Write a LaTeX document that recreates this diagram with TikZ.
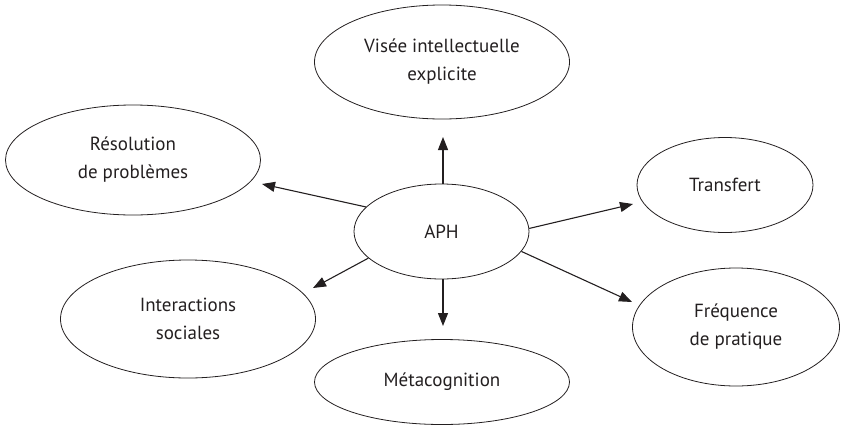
\documentclass[tikz,border=0pt]{standalone}
\usepackage{fontspec}
\setmainfont{PT Sans}
\usetikzlibrary{shapes.geometric,arrows.meta}
\definecolor{ink}{RGB}{35,31,32}
\begin{document}
\begin{tikzpicture}[x=1pt,y=-1pt,
  bub/.style={draw=ink, line width=0.8pt, ellipse, inner sep=0pt, align=center,
    font=\fontsize{19}{28}\selectfont, text=ink},
  arr/.style={draw=ink, line width=1.1pt, -{Triangle[length=13pt,width=10pt]}}]
\useasboundingbox (0,0) rectangle (841,426);
\node[bub, minimum width=175pt, minimum height=95pt] (aph) at (441.5,231.5) {APH};
\node[bub, minimum width=255pt, minimum height=114pt] (vis) at (442,62) {Visée intellectuelle\\explicite};
\node[bub, minimum width=255pt, minimum height=110pt] (res) at (133,160) {Résolution\\de problèmes};
\node[bub, minimum width=176pt, minimum height=95pt] (trf) at (725,185) {Transfert};
\node[bub, minimum width=255pt, minimum height=118pt] (int) at (188,319) {Interactions\\sociales};
\node[bub, minimum width=207pt, minimum height=118pt] (frq) at (736,327) {Fréquence\\de pratique};
\node[bub, minimum width=255pt, minimum height=85pt] (met) at (442,382) {Métacognition};
\coordinate (tvis) at (443,137);
\coordinate (tmet) at (443,326);
\coordinate (tres) at (262,184);
\coordinate (tint) at (313,288);
\coordinate (ttrf) at (633,204);
\coordinate (tfrq) at (632,302);
\draw[arr] (aph.north) ++(1.5,0) coordinate (svis) (svis) -- (tvis);
\draw[arr] (aph.south) ++(1.5,0) coordinate (smet) (smet) -- (tmet);
\draw[arr] (aph.162) -- (tres);
\draw[arr] (aph.200) -- (tint);
\draw[arr] (aph.2.3) -- (ttrf);
\draw[arr] (aph.-14) -- (tfrq);
\end{tikzpicture}
\end{document}
